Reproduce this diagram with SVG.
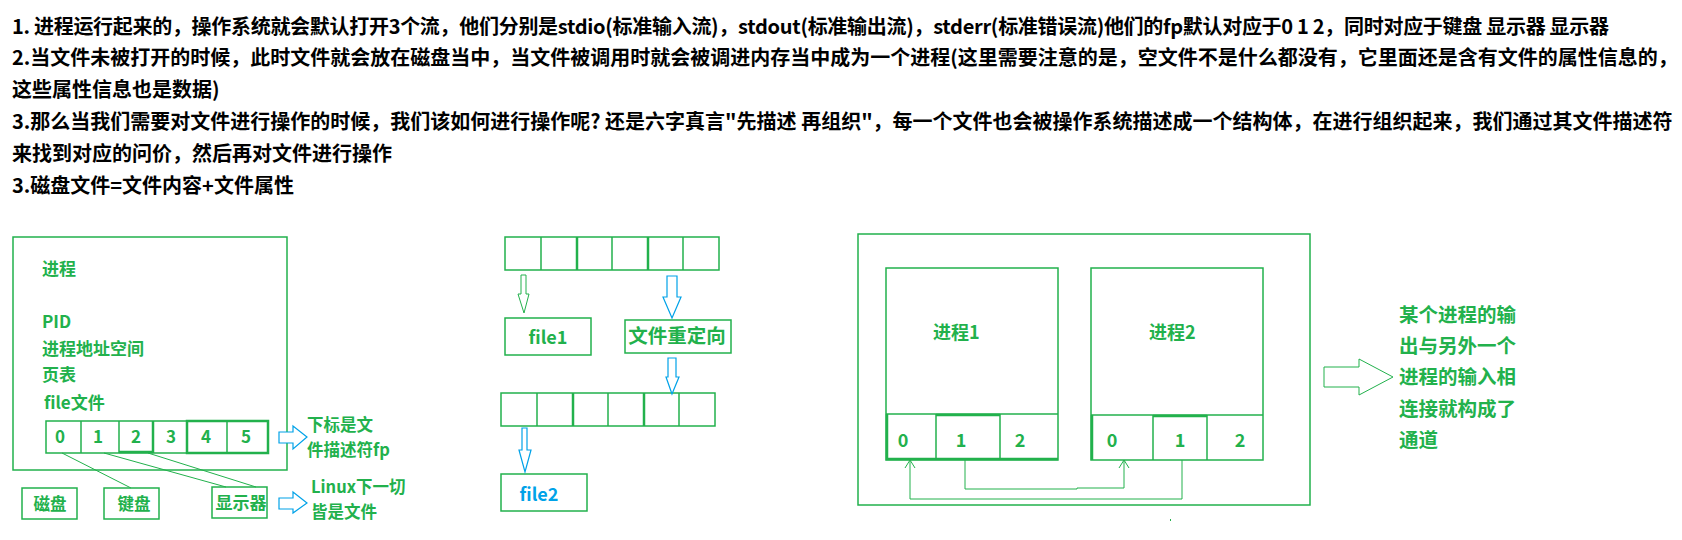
<svg xmlns="http://www.w3.org/2000/svg" width="1682" height="540" viewBox="0 0 1682 540">
<style>
.hd{font-family:"Noto Sans CJK SC","Liberation Sans",sans-serif;font-weight:bold;font-size:20px;fill:#000}
.gt{font-family:"Noto Sans CJK SC","Liberation Sans",sans-serif;font-weight:bold;fill:#22b14c}
.bt{font-family:"Noto Sans CJK SC","Liberation Sans",sans-serif;font-weight:bold;fill:#00a2e8}
.box{fill:none;stroke:#22b14c;stroke-width:1.5}
.thk{fill:none;stroke:#22b14c;stroke-width:2.5}
.ln{fill:none;stroke:#22b14c;stroke-width:1}
.ga{fill:#fff;stroke:#22b14c;stroke-width:1}
.ba{fill:#fff;stroke:#00a2e8;stroke-width:1.2}
</style>
<rect width="1682" height="540" fill="#fff"/>
<g id="notes">
<text class="hd" x="12" y="34" textLength="1597" lengthAdjust="spacing">1. 进程运行起来的，操作系统就会默认打开3个流，他们分别是stdio(标准输入流)，stdout(标准输出流)，stderr(标准错误流)他们的fp默认对应于0 1 2，同时对应于键盘 显示器 显示器</text>
<text class="hd" x="12" y="65">2.当文件未被打开的时候，此时文件就会放在磁盘当中，当文件被调用时就会被调进内存当中成为一个进程(这里需要注意的是，空文件不是什么都没有，它里面还是含有文件的属性信息的，</text>
<text class="hd" x="12" y="97">这些属性信息也是数据)</text>
<text class="hd" x="12" y="129">3.那么当我们需要对文件进行操作的时候，我们该如何进行操作呢? 还是六字真言"先描述 再组织"，每一个文件也会被操作系统描述成一个结构体，在进行组织起来，我们通过其文件描述符</text>
<text class="hd" x="12" y="161">来找到对应的问价，然后再对文件进行操作</text>
<text class="hd" x="12" y="193">3.磁盘文件=文件内容+文件属性</text>
</g>

<g id="process">
<rect class="box" x="13" y="237" width="274" height="233"/>
<text class="gt" font-size="17" x="42" y="275">进程</text>
<text class="gt" font-size="17" x="42" y="328">PID</text>
<text class="gt" font-size="17" x="42" y="355">进程地址空间</text>
<text class="gt" font-size="17" x="42" y="381">页表</text>
<text class="gt" font-size="17" x="44" y="409">file文件</text>
</g>
<g id="fd-array">
<rect class="box" x="46" y="421" width="222" height="32"/>
<line class="box" x1="81" y1="421" x2="81" y2="453"/>
<line class="box" x1="119" y1="421" x2="119" y2="453"/>
<line class="thk" x1="153" y1="421" x2="153" y2="453"/>
<line class="thk" x1="119" y1="452" x2="153" y2="452"/>
<rect class="thk" x="187" y="421" width="81" height="32"/>
<line class="box" x1="227" y1="421" x2="227" y2="453"/>
<g class="gt" font-size="17" text-anchor="middle">
<text x="60" y="443">0</text><text x="98" y="443">1</text><text x="136" y="443">2</text>
<text x="171" y="443">3</text><text x="206" y="443">4</text><text x="246" y="443">5</text>
</g>
</g>
<g id="disk"><rect class="box" x="22" y="488" width="55" height="31"/><text class="gt" font-size="16.5" x="50" y="510" text-anchor="middle">磁盘</text></g>
<g id="keyboard"><rect class="box" x="104" y="488" width="55" height="31"/><text class="gt" font-size="16.5" x="134" y="510" text-anchor="middle">键盘</text></g>
<g id="monitor"><rect class="box" x="212" y="487" width="55" height="31"/><text class="gt" font-size="17" x="241" y="509" text-anchor="middle">显示器</text></g>
<g id="note-fd">
<polygon class="ba" points="279,432 293,432 293,426 307,437 293,449 293,443 279,443"/>
<text class="gt" font-size="16.5" x="307" y="431">下标是文</text>
<text class="gt" font-size="16.5" x="307" y="456">件描述符fp</text>
</g>
<g id="note-linux">
<polygon class="ba" points="279,498 293,498 293,492 307,503 293,513 293,509 279,509"/>
<text class="gt" font-size="16.5" x="311" y="493">Linux下一切</text>
<text class="gt" font-size="16.5" x="311" y="518">皆是文件</text>
</g>

<g id="array-top">
<rect class="box" x="505" y="237" width="214" height="33"/>
<line class="box" x1="541" y1="237" x2="541" y2="270"/>
<line class="thk" x1="577" y1="237" x2="577" y2="270"/>
<line class="box" x1="612" y1="237" x2="612" y2="270"/>
<line class="thk" x1="648" y1="237" x2="648" y2="270"/>
<line class="box" x1="683" y1="237" x2="683" y2="270"/>
</g>
<g id="file1"><rect class="box" x="505" y="318" width="86" height="37"/><text class="gt" font-size="18" x="548" y="344" text-anchor="middle">file1</text></g>
<g id="redirect"><rect class="box" x="625" y="320" width="106" height="33"/><text class="gt" font-size="19.5" x="677" y="343" text-anchor="middle">文件重定向</text></g>
<g id="array-bottom">
<rect class="box" x="501" y="393" width="214" height="33"/>
<line class="box" x1="537" y1="393" x2="537" y2="426"/>
<line class="thk" x1="573" y1="393" x2="573" y2="426"/>
<line class="box" x1="608" y1="393" x2="608" y2="426"/>
<line class="thk" x1="644" y1="393" x2="644" y2="426"/>
<line class="box" x1="679" y1="393" x2="679" y2="426"/>
</g>
<g id="file2"><rect class="box" x="501" y="474" width="86" height="37"/><text class="bt" font-size="18" x="539" y="501" text-anchor="middle">file2</text></g>

<g id="pipe-frame"><rect class="box" x="858" y="234" width="452" height="271"/></g>
<g id="proc1">
<rect class="box" x="886" y="268" width="172" height="192"/>
<line class="box" x1="886" y1="414" x2="1058" y2="414"/>
<path class="thk" d="M887,414 V459 H1058"/>
<line class="box" x1="936" y1="414" x2="936" y2="460"/>
<line class="thk" x1="936" y1="415" x2="1000" y2="415"/>
<line class="box" x1="1000" y1="414" x2="1000" y2="460"/>
<text class="gt" font-size="18" x="933" y="339">进程1</text>
<g class="gt" font-size="18" text-anchor="middle"><text x="903" y="447">0</text><text x="961" y="447">1</text><text x="1020" y="447">2</text></g>
</g>
<g id="proc2">
<rect class="box" x="1091" y="268" width="172" height="192"/>
<line class="box" x1="1091" y1="415" x2="1263" y2="415"/>
<line class="thk" x1="1092" y1="415" x2="1092" y2="460"/>
<line class="box" x1="1153" y1="415" x2="1153" y2="460"/>
<line class="thk" x1="1153" y1="416" x2="1207" y2="416"/>
<line class="box" x1="1207" y1="415" x2="1207" y2="460"/>
<text class="gt" font-size="18" x="1149" y="339">进程2</text>
<g class="gt" font-size="18" text-anchor="middle"><text x="1112" y="447">0</text><text x="1180" y="447">1</text><text x="1240" y="447">2</text></g>
</g>
<g id="pipe-note">
<polygon class="ga" points="1324,367 1359,367 1359,359 1393,377 1359,395 1359,387 1324,387"/>
<g class="gt" font-size="19.5">
<text x="1399" y="322">某个进程的输</text>
<text x="1399" y="353">出与另外一个</text>
<text x="1399" y="384">进程的输入相</text>
<text x="1399" y="416">连接就构成了</text>
<text x="1399" y="447">通道</text>
</g>
</g>
<rect x="1170" y="519" width="1" height="2" fill="#22b14c"/>

<g id="connectors">
<line class="ln" x1="62" y1="453" x2="131" y2="488"/>
<line class="ln" x1="104" y1="453" x2="226" y2="487"/>
<line class="ln" x1="148" y1="453" x2="256" y2="487"/>
<polygon class="ga" points="521,275 526,275 526,294 529,294 524,313 518,294 521,294"/>
<polygon class="ba" points="667,276 677,276 677,297 681,297 672,318 663,297 667,297"/>
<polygon class="ba" points="668,358 676,358 676,377 679,377 672,394 666,377 668,377"/>
<polygon class="ba" points="522,428 527,428 527,450 531,450 525,472 519,450 522,450"/>
<path class="ln" d="M965,460 V489 H1077 V488 H1124 V461"/>
<path class="ln" d="M1119,468 L1124,460 L1129,468"/>
<path class="ln" d="M1182,460 V499 H910 V461"/>
<path class="ln" d="M905,468 L910,460 L915,468"/>
</g>
</svg>
